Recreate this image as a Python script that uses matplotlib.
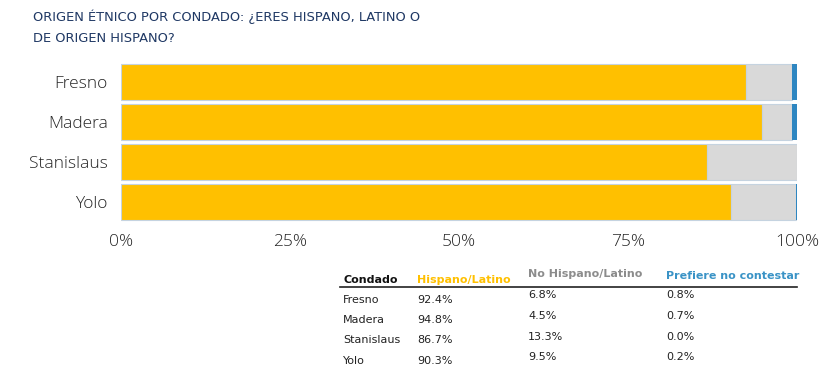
import numpy as np
import matplotlib.pyplot as plt
from matplotlib.ticker import FuncFormatter

# datos
condados = ['Fresno', 'Madera', 'Stanislaus', 'Yolo']
hispano = [92.4, 94.8, 86.7, 90.3]
no_hispano = [6.8, 4.5, 13.3, 9.5]
prefiere = [0.8, 0.7, 0.0, 0.2]
ticks = [0, 25, 50, 75, 100]

amarillo = '#FFC000'
gris = '#D9D9D9'
azul = '#2E86C1'
borde = '#C5D3E0'
navy = '#1F3864'

fig = plt.figure(figsize=(8.4, 3.78), dpi=100)
ax = fig.add_axes([121/840, 1 - 222/378, 676/840, 160/378])

y = np.arange(len(condados))
h = np.array(hispano)
n = np.array(no_hispano)
p = np.array(prefiere)
ax.barh(y, h, height=0.9, color=amarillo, edgecolor=borde, linewidth=0.8)
ax.barh(y, n, left=h, height=0.9, color=gris, edgecolor=borde, linewidth=0.8)
ax.barh(y, p, left=h + n, height=0.9, color=azul, linewidth=0)

ax.set_ylim(3.5, -0.5)
ax.set_xlim(0, 100)
ax.set_yticks(y)
ax.set_yticklabels(condados, fontsize=12.5, family='Open Sans', fontweight='light', color='#262626')
ax.set_xticks(ticks)
ax.xaxis.set_major_formatter(FuncFormatter(lambda v, pos: '%d%%' % v))
for lb in ax.get_xticklabels():
    lb.set_fontsize(12.5)
    lb.set_family('Open Sans')
    lb.set_fontweight('light')
    lb.set_color('#262626')
ax.tick_params(axis='y', length=0, pad=9.5)
ax.tick_params(axis='x', length=0, pad=9)
for s in ax.spines.values():
    s.set_visible(False)

# titulo
fig.text(33/840, 1 - 10/378, 'ORIGEN ÉTNICO POR CONDADO: ¿ERES HISPANO, LATINO O\nDE ORIGEN HISPANO?',
         fontsize=9.4, color=navy, family='DejaVu Sans', va='top', ha='left', linespacing=1.7)

# tabla
cols_x = [343, 417, 528, 666]
headers = ['Condado', 'Hispano/Latino', 'No Hispano/Latino', 'Prefiere no contestar']
head_colors = ['#111111', amarillo, '#8C8C8C', '#3A93C6']
head_y = [280, 280, 274, 276]
for x, t, c, yy in zip(cols_x, headers, head_colors, head_y):
    fig.text(x/840, 1 - yy/378, t, fontsize=8, fontweight='bold', color=c,
             family='DejaVu Sans', va='center', ha='left')
fig.add_artist(plt.Line2D([340/840, 797/840], [1 - 287/378, 1 - 287/378], color='#222222', lw=1.2))

rows_y1 = [300, 320, 340, 361]
rows_y2 = [295, 316, 337, 357]
for i, c in enumerate(condados):
    fig.text(cols_x[0]/840, 1 - rows_y1[i]/378, c, fontsize=8, color='#222222', va='center', ha='left')
    fig.text(cols_x[1]/840, 1 - rows_y1[i]/378, '%.1f%%' % hispano[i], fontsize=8, color='#222222', va='center', ha='left')
    fig.text(cols_x[2]/840, 1 - rows_y2[i]/378, '%.1f%%' % no_hispano[i], fontsize=8, color='#222222', va='center', ha='left')
    fig.text(cols_x[3]/840, 1 - rows_y2[i]/378, '%.1f%%' % prefiere[i], fontsize=8, color='#222222', va='center', ha='left')

plt.savefig('out.png', dpi=100)
